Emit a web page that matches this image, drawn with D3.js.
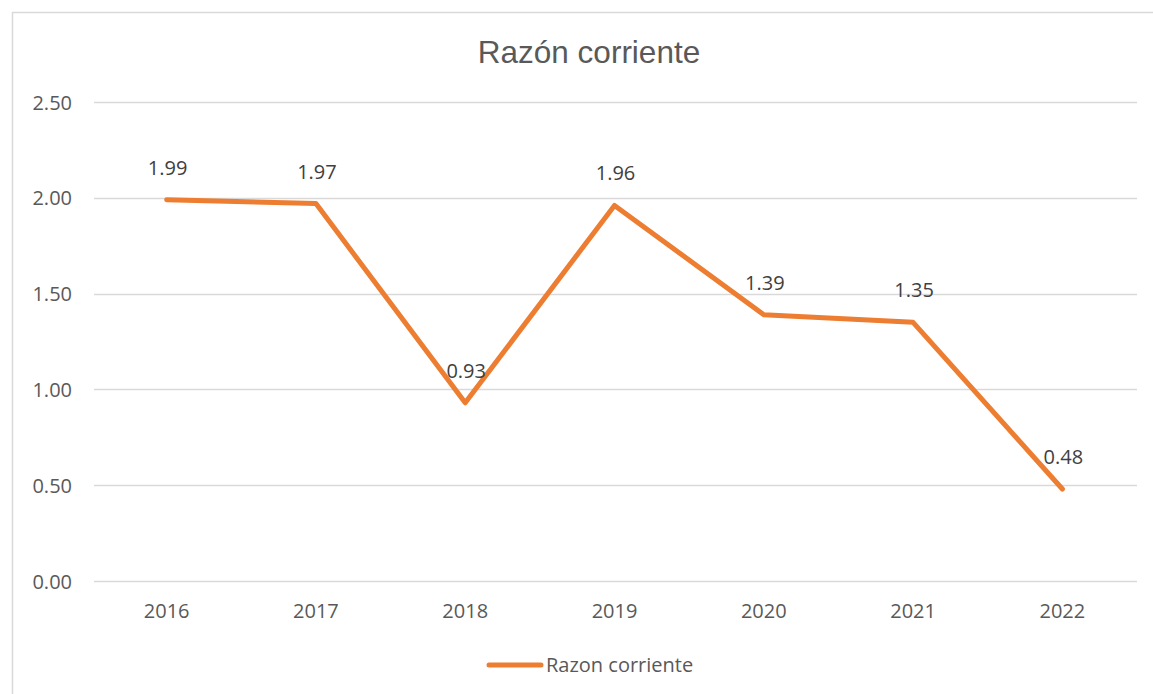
<!DOCTYPE html>
<html><head><meta charset="utf-8">
<script src="https://cdn.jsdelivr.net/npm/d3@7"></script>
<style>body{margin:0;background:#fff}svg{display:block}</style>
</head><body>
<svg id="c" width="1153" height="694"></svg>
<script>
const categories = ["2016","2017","2018","2019","2020","2021","2022"];
const values = [1.99, 1.97, 0.93, 1.96, 1.39, 1.35, 0.48];
const yTicks = [0, 0.5, 1.0, 1.5, 2.0, 2.5];
const seriesName = "Razon corriente";
const title = "Razón corriente";

const svg = d3.select("#c");
const font = "'Open Sans', 'Noto Sans', sans-serif";
const fs = 20;
svg.append("rect").attr("x",12.5).attr("y",12.5).attr("width",1170).attr("height",700)
  .attr("fill","#fff").attr("stroke","#d9d9d9").attr("stroke-width",1.5);

const x = d3.scaleBand().domain(categories).range([92,1137]);
const y = d3.scaleLinear().domain([0,2.5]).range([581,102]);

svg.append("text").attr("x",589).attr("y",52).attr("text-anchor","middle")
  .attr("dominant-baseline","central").attr("font-family","'Liberation Sans', Arial, sans-serif")
  .attr("font-size",31.5).attr("fill","#595959").text(title);

// gridlines
svg.append("g").selectAll("line").data(yTicks).join("line")
  .attr("x1",94).attr("x2",1137).attr("y1",d=>Math.round(y(d))+0.5).attr("y2",d=>Math.round(y(d))+0.5)
  .attr("stroke","#d9d9d9").attr("stroke-width",1.5);

// y axis labels
const yAxis = d3.axisLeft(y).tickValues(yTicks).tickFormat(d3.format(".2f")).tickSize(0).tickPadding(0);
const gy = svg.append("g").attr("transform","translate(72,0)").call(yAxis);
gy.select(".domain").remove();
gy.selectAll("text").attr("font-family",font).attr("font-size",fs).attr("fill","#595959").attr("dy","0.35em");

// x axis labels
const xAxis = d3.axisBottom(x).tickSize(0).tickPadding(0);
const gx = svg.append("g").attr("transform","translate(0,611)").call(xAxis);
gx.select(".domain").remove();
gx.selectAll("text").attr("font-family",font).attr("font-size",fs).attr("fill","#595959").attr("dy","0.35em");

const data = categories.map((c,i)=>({c, v: values[i]}));
const line = d3.line().x(d=>x(d.c)+x.bandwidth()/2).y(d=>y(d.v));
svg.append("path").datum(data).attr("d",line).attr("fill","none")
  .attr("stroke","#ED7D31").attr("stroke-width",5).attr("stroke-linejoin","round").attr("stroke-linecap","round");

svg.append("g").selectAll("text").data(data).join("text")
  .attr("x",d=>x(d.c)+x.bandwidth()/2+1).attr("y",d=>y(d.v)-32)
  .attr("text-anchor","middle").attr("dy","0.35em")
  .attr("font-family",font).attr("font-size",fs).attr("fill","#404040")
  .text(d=>d3.format(".2f")(d.v));

// legend
svg.append("line").attr("x1",489).attr("x2",541).attr("y1",665).attr("y2",665)
  .attr("stroke","#ED7D31").attr("stroke-width",5).attr("stroke-linecap","round");
svg.append("text").attr("x",546).attr("y",665).attr("dy","0.35em")
  .attr("font-family",font).attr("font-size",fs).attr("fill","#595959").text(seriesName);
</script>
</body></html>
